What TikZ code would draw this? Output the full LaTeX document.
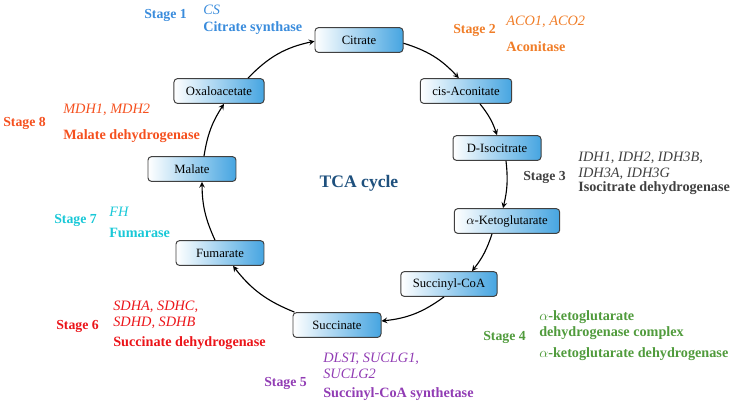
\documentclass[tikz,border=0pt]{standalone}
\usepackage{fontspec}
\setmainfont{Liberation Serif}

\definecolor{boxblue}{RGB}{70,165,225}
\definecolor{tcablue}{RGB}{30,80,125}
\definecolor{sone}{RGB}{58,140,220}
\definecolor{stwo}{RGB}{240,125,40}
\definecolor{sthree}{RGB}{64,64,64}
\definecolor{sfour}{RGB}{80,155,60}
\definecolor{sfive}{RGB}{145,60,180}
\definecolor{ssix}{RGB}{235,20,25}
\definecolor{sseven}{RGB}{25,200,215}
\definecolor{seight}{RGB}{245,80,30}

\begin{document}
\begin{tikzpicture}[>=stealth,
        metab/.style={draw=black!75, line width=0.7pt, rounded corners=2.5pt,
            left color=white, right color=boxblue, minimum width=2.2cm,
            minimum height=0.62cm, inner xsep=0.3cm,
            font=\fontsize{9}{10}\selectfont},
        stagelbl/.style={anchor=west, inner sep=0pt, font=\fontsize{9.8}{10}\selectfont\bfseries},
        gene/.style={anchor=west, align=left, inner sep=0pt,
            font=\fontsize{10.2}{11.5}\selectfont\itshape},
        enzyme/.style={anchor=west, align=left, inner sep=0pt,
            font=\fontsize{10.1}{11.5}\selectfont\bfseries},
        link/.style={->, line width=0.8pt}]
        \useasboundingbox (0,0) rectangle (18.4,-10.175);

        % the cycle
        \node[metab] at (8.975,-1.0) (cit) {Citrate};
        \node[metab] at (11.65,-2.275) (cis) {cis-Aconitate};
        \node[metab] at (12.425,-3.7) (iso) {D-Isocitrate};
        \node[metab] at (12.675,-5.525) (akg) {$\alpha$-Ketoglutarate};
        \node[metab] at (11.225,-7.1) (sca) {Succinyl-CoA};
        \node[metab] at (8.425,-8.125) (suc) {Succinate};
        \node[metab] at (5.5,-6.325) (fum) {Fumarate};
        \node[metab] at (4.8,-4.225) (mal) {Malate};
        \node[metab] at (5.475,-2.275) (oxa) {Oxaloacetate};
        \node[font=\fontsize{12.5}{14}\selectfont\bfseries, text=tcablue] at (8.975,-4.575) (tca) {TCA cycle};

        \draw [link] ([yshift=-0.08cm]cit.east) to[bend left=15] ([xshift=-0.18cm]cis.north);
        \draw [link] ([xshift=0.35cm]cis.south) to[bend left=10] (iso.north);
        \draw [link] ([xshift=0.225cm]iso.south) to[bend left=10] ([xshift=-0.1cm]akg.north);
        \draw [link] ([xshift=-0.375cm]akg.south) to[bend left=10] ([xshift=0.575cm]sca.north);
        \draw [link] ([xshift=-0.125cm]sca.south) to[bend left=15] ([yshift=0.1cm]suc.east);
        \draw [link] ([xshift=0.05cm]suc.north west) to[bend left=15] ([xshift=0.325cm]fum.south);
        \draw [link] ([xshift=-0.125cm]fum.north) to[bend left=12] ([xshift=0.25cm]mal.south);
        \draw [link] ([xshift=0.3cm]mal.north) to[bend left=12] ([xshift=0.125cm]oxa.south);
        \draw [link] ([xshift=0.725cm]oxa.north) to[bend left=17] ([yshift=-0.03cm]cit.west);

        % stages and enzymes
        \node[stagelbl, text=sone] at (3.6,-0.375) (s1) {Stage 1};
        \node[gene, text=sone] at (5.075,-0.25) (g1) {CS};
        \node[enzyme, text=sone] at (5.075,-0.7) (e1) {Citrate synthase};

        \node[stagelbl, text=stwo] at (11.325,-0.75) (s2) {Stage 2};
        \node[gene, text=stwo] at (12.65,-0.55) (g2) {ACO1, ACO2};
        \node[enzyme, text=stwo] at (12.65,-1.175) (e2) {Aconitase};

        \node[stagelbl, text=sthree] at (13.075,-4.425) (s3) {Stage 3};
        \node[gene, text=sthree] at (14.45,-4.14) (g3) {IDH1, IDH2, IDH3B,\\IDH3A, IDH3G};
        \node[enzyme, text=sthree] at (14.45,-4.7) (e3) {Isocitrate dehydrogenase};

        \node[stagelbl, text=sfour] at (12.075,-8.425) (s4) {Stage 4};
        \node[enzyme, text=sfour] at (13.475,-8.125) (c4) {$\alpha$-ketoglutarate\\dehydrogenase complex};
        \node[enzyme, text=sfour] at (13.475,-8.85) (e4) {$\alpha$-ketoglutarate dehydrogenase};

        \node[stagelbl, text=sfive] at (6.6,-9.575) (s5) {Stage 5};
        \node[gene, text=sfive] at (8.075,-9.15) (g5) {DLST, SUCLG1,\\SUCLG2};
        \node[enzyme, text=sfive] at (8.075,-9.85) (e5) {Succinyl-CoA synthetase};

        \node[stagelbl, text=ssix] at (1.4,-8.15) (s6) {Stage 6};
        \node[gene, text=ssix] at (2.825,-7.875) (g6) {SDHA, SDHC,\\SDHD, SDHB};
        \node[enzyme, text=ssix] at (2.825,-8.575) (e6) {Succinate dehydrogenase};

        \node[stagelbl, text=sseven] at (1.35,-5.5) (s7) {Stage 7};
        \node[gene, text=sseven] at (2.725,-5.3) (g7) {FH};
        \node[enzyme, text=sseven] at (2.725,-5.825) (e7) {Fumarase};

        \node[stagelbl, text=seight] at (0.075,-3.075) (s8) {Stage 8};
        \node[gene, text=seight] at (1.575,-2.75) (g8) {MDH1, MDH2};
        \node[enzyme, text=seight] at (1.575,-3.4) (e8) {Malate dehydrogenase};
    \end{tikzpicture}
\end{document}
